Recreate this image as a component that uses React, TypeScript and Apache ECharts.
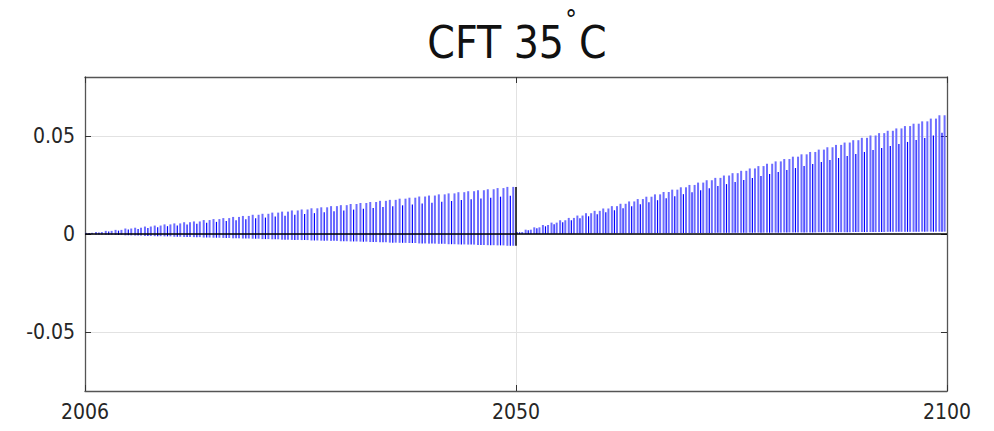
import React, { useEffect, useRef } from "react";
import * as echarts from "echarts";

// Yearly maximum / minimum of the monthly signal, first period (2006–2049)
const seg1Upper = [
  0.0006, 0.0010, 0.0016, 0.0021, 0.0028, 0.0032, 0.0038, 0.0043, 0.0049, 0.0054,
  0.0060, 0.0064, 0.0071, 0.0076, 0.0081, 0.0087, 0.0092, 0.0098, 0.0103, 0.0109,
  0.0114, 0.0120, 0.0125, 0.0131, 0.0136, 0.0142, 0.0147, 0.0153, 0.0158, 0.0163,
  0.0169, 0.0174, 0.0180, 0.0185, 0.0191, 0.0196, 0.0202, 0.0207, 0.0213, 0.0218,
  0.0223, 0.0228, 0.0234, 0.0240,
];
const seg1Lower = [
  -0.0001, -0.0003, -0.0004, -0.0005, -0.0007, -0.0008, -0.0010, -0.0011, -0.0012, -0.0014,
  -0.0015, -0.0016, -0.0018, -0.0019, -0.0020, -0.0022, -0.0023, -0.0024, -0.0026, -0.0027,
  -0.0029, -0.0030, -0.0031, -0.0033, -0.0034, -0.0035, -0.0037, -0.0038, -0.0039, -0.0041,
  -0.0042, -0.0044, -0.0045, -0.0046, -0.0048, -0.0049, -0.0050, -0.0052, -0.0053, -0.0054,
  -0.0056, -0.0057, -0.0058, -0.0060,
];
// Second period (2050–2099)
const seg2Upper = [
  0.0010, 0.0022, 0.0034, 0.0046, 0.0058, 0.0070, 0.0082, 0.0094, 0.0106, 0.0118,
  0.0130, 0.0142, 0.0154, 0.0166, 0.0178, 0.0190, 0.0202, 0.0214, 0.0226, 0.0238,
  0.0250, 0.0262, 0.0274, 0.0286, 0.0298, 0.0310, 0.0322, 0.0334, 0.0346, 0.0358,
  0.0370, 0.0382, 0.0394, 0.0406, 0.0418, 0.0430, 0.0442, 0.0454, 0.0466, 0.0478,
  0.0490, 0.0502, 0.0514, 0.0526, 0.0538, 0.0550, 0.0562, 0.0574, 0.0588, 0.0605,
];
const seg2Lower = [
  0.0000, 0.0000, 0.0000, 0.0001, 0.0001, 0.0001, 0.0001, 0.0002, 0.0002, 0.0002,
  0.0002, 0.0003, 0.0003, 0.0003, 0.0003, 0.0004, 0.0004, 0.0004, 0.0004, 0.0005,
  0.0005, 0.0005, 0.0005, 0.0006, 0.0006, 0.0006, 0.0006, 0.0007, 0.0007, 0.0007,
  0.0007, 0.0008, 0.0008, 0.0008, 0.0008, 0.0009, 0.0009, 0.0009, 0.0009, 0.0010,
  0.0010, 0.0010, 0.0010, 0.0011, 0.0011, 0.0011, 0.0011, 0.0012, 0.0012, 0.0012,
];

const xTickValues = [0, 50, 100];
const xTickLabels = ["2006", "2050", "2100"];
const yTickValues = [-0.05, 0, 0.05];
const yTickLabels = ["-0.05", "0", "0.05"];

const FONT = "'DejaVu Sans Condensed', 'DejaVu Sans', sans-serif";
const AXIS_COLOR = "#555555";
const GRID_COLOR = "#e2e2e2";
const TITLE_COLOR = "#111111";

export default function App() {
  const ref = useRef<HTMLDivElement>(null);

  useEffect(() => {
    if (!ref.current) return;
    const chart = echarts.init(ref.current, undefined, { renderer: "svg" });

    // Each period occupies half of the axis (0–50 and 50–100)
    const w1 = 50 / seg1Upper.length;
    const w2 = 50 / seg2Upper.length;
    const stripData: number[][] = [];
    seg1Upper.forEach((hi, i) => stripData.push([i * w1, seg1Lower[i], hi, w1]));
    seg2Upper.forEach((hi, i) => stripData.push([50 + i * w2, seg2Lower[i], hi, w2]));

    const last = seg1Upper.length - 1;

    const xAxisBase = {
      type: "value",
      min: 0,
      max: 100,
      axisLine: { show: true, onZero: false, lineStyle: { color: AXIS_COLOR, width: 1.3 } },
      axisTick: { show: true, inside: true, length: 6, customValues: xTickValues, lineStyle: { color: "#333" } },
    };
    const yAxisBase = {
      type: "value",
      min: -0.08,
      max: 0.08,
      axisLine: { show: true, onZero: false, lineStyle: { color: AXIS_COLOR, width: 1.3 } },
      axisTick: { show: true, inside: true, length: 6, customValues: yTickValues, lineStyle: { color: "#333" } },
    };

    chart.setOption({
      animation: false,
      graphic: [
        {
          type: "text",
          x: 564,
          y: 42,
          style: {
            text: "CFT 35",
            fontSize: 44,
            fontFamily: FONT,
            fill: TITLE_COLOR,
            textAlign: "right",
            textVerticalAlign: "middle",
          },
        },
        {
          type: "text",
          x: 571,
          y: 20,
          style: {
            text: "°",
            fontSize: 26,
            fontFamily: FONT,
            fill: TITLE_COLOR,
            textAlign: "center",
            textVerticalAlign: "middle",
          },
        },
        {
          type: "text",
          x: 579,
          y: 42,
          style: {
            text: "C",
            fontSize: 44,
            fontFamily: FONT,
            fill: TITLE_COLOR,
            textAlign: "left",
            textVerticalAlign: "middle",
          },
        },
      ],
      grid: { left: 85, right: 47, top: 77, bottom: 40, containLabel: false, outerBoundsMode: "none" },
      xAxis: [
        {
          ...xAxisBase,
          position: "bottom",
          axisLabel: {
            show: true,
            customValues: xTickValues,
            margin: 10,
            fontSize: 21,
            fontFamily: FONT,
            color: "#262626",
            formatter: (v: number) => xTickLabels[xTickValues.indexOf(v)] ?? "",
          },
          splitLine: { show: true, lineStyle: { color: GRID_COLOR, width: 1 } },
        },
        {
          ...xAxisBase,
          position: "top",
          axisLabel: { show: false },
          splitLine: { show: false },
        },
      ],
      yAxis: [
        {
          ...yAxisBase,
          position: "left",
          axisLabel: {
            show: true,
            customValues: yTickValues,
            margin: 10,
            fontSize: 21,
            fontFamily: FONT,
            color: "#262626",
            formatter: (v: number) => yTickLabels[yTickValues.findIndex((t) => Math.abs(t - v) < 1e-9)] ?? "",
          },
          splitLine: { show: true, lineStyle: { color: GRID_COLOR, width: 1 } },
        },
        {
          ...yAxisBase,
          position: "right",
          axisLabel: { show: false },
          splitLine: { show: false },
        },
      ],
      series: [
        {
          type: "custom",
          xAxisIndex: 0,
          yAxisIndex: 0,
          z: 2,
          data: stripData,
          encode: { x: 0, y: [1, 2] },
          renderItem: (_params: any, api: any) => {
            const x0 = api.value(0);
            const lo = api.value(1);
            const hi = api.value(2);
            const w = api.value(3);
            const pLo = api.coord([x0, lo]);
            const pHi = api.coord([x0, hi]);
            const pMid = api.coord([x0, lo + (hi - lo) * 0.85]);
            const pw = api.size([w, 0])[0];
            const strokes = [
              { f: 0.12, top: pHi[1], color: "#6d6dff", width: 2 },
              { f: 0.42, top: pMid[1], color: "#0000ff", width: 1.2 },
              { f: 0.72, top: pHi[1], color: "#6d6dff", width: 2 },
            ];
            return {
              type: "group",
              children: strokes.map((s) => ({
                type: "line",
                shape: {
                  x1: pLo[0] + s.f * pw,
                  y1: pLo[1],
                  x2: pLo[0] + s.f * pw,
                  y2: s.top,
                },
                style: { stroke: s.color, lineWidth: s.width },
              })),
            };
          },
        },
        {
          type: "line",
          xAxisIndex: 0,
          yAxisIndex: 0,
          z: 3,
          symbol: "none",
          lineStyle: { color: "#000", width: 1.5 },
          data: [
            [50, seg1Upper[last]],
            [50, seg1Lower[last]],
          ],
          markLine: {
            silent: true,
            symbol: "none",
            label: { show: false },
            lineStyle: { color: "#000", width: 1.5, type: "solid" },
            data: [{ yAxis: 0 }],
          },
        },
      ],
    });

    return () => chart.dispose();
  }, []);

  return (
    <div
      ref={ref}
      style={{ position: "fixed", left: 0, top: 0, width: 994, height: 431, background: "#fff" }}
    />
  );
}
